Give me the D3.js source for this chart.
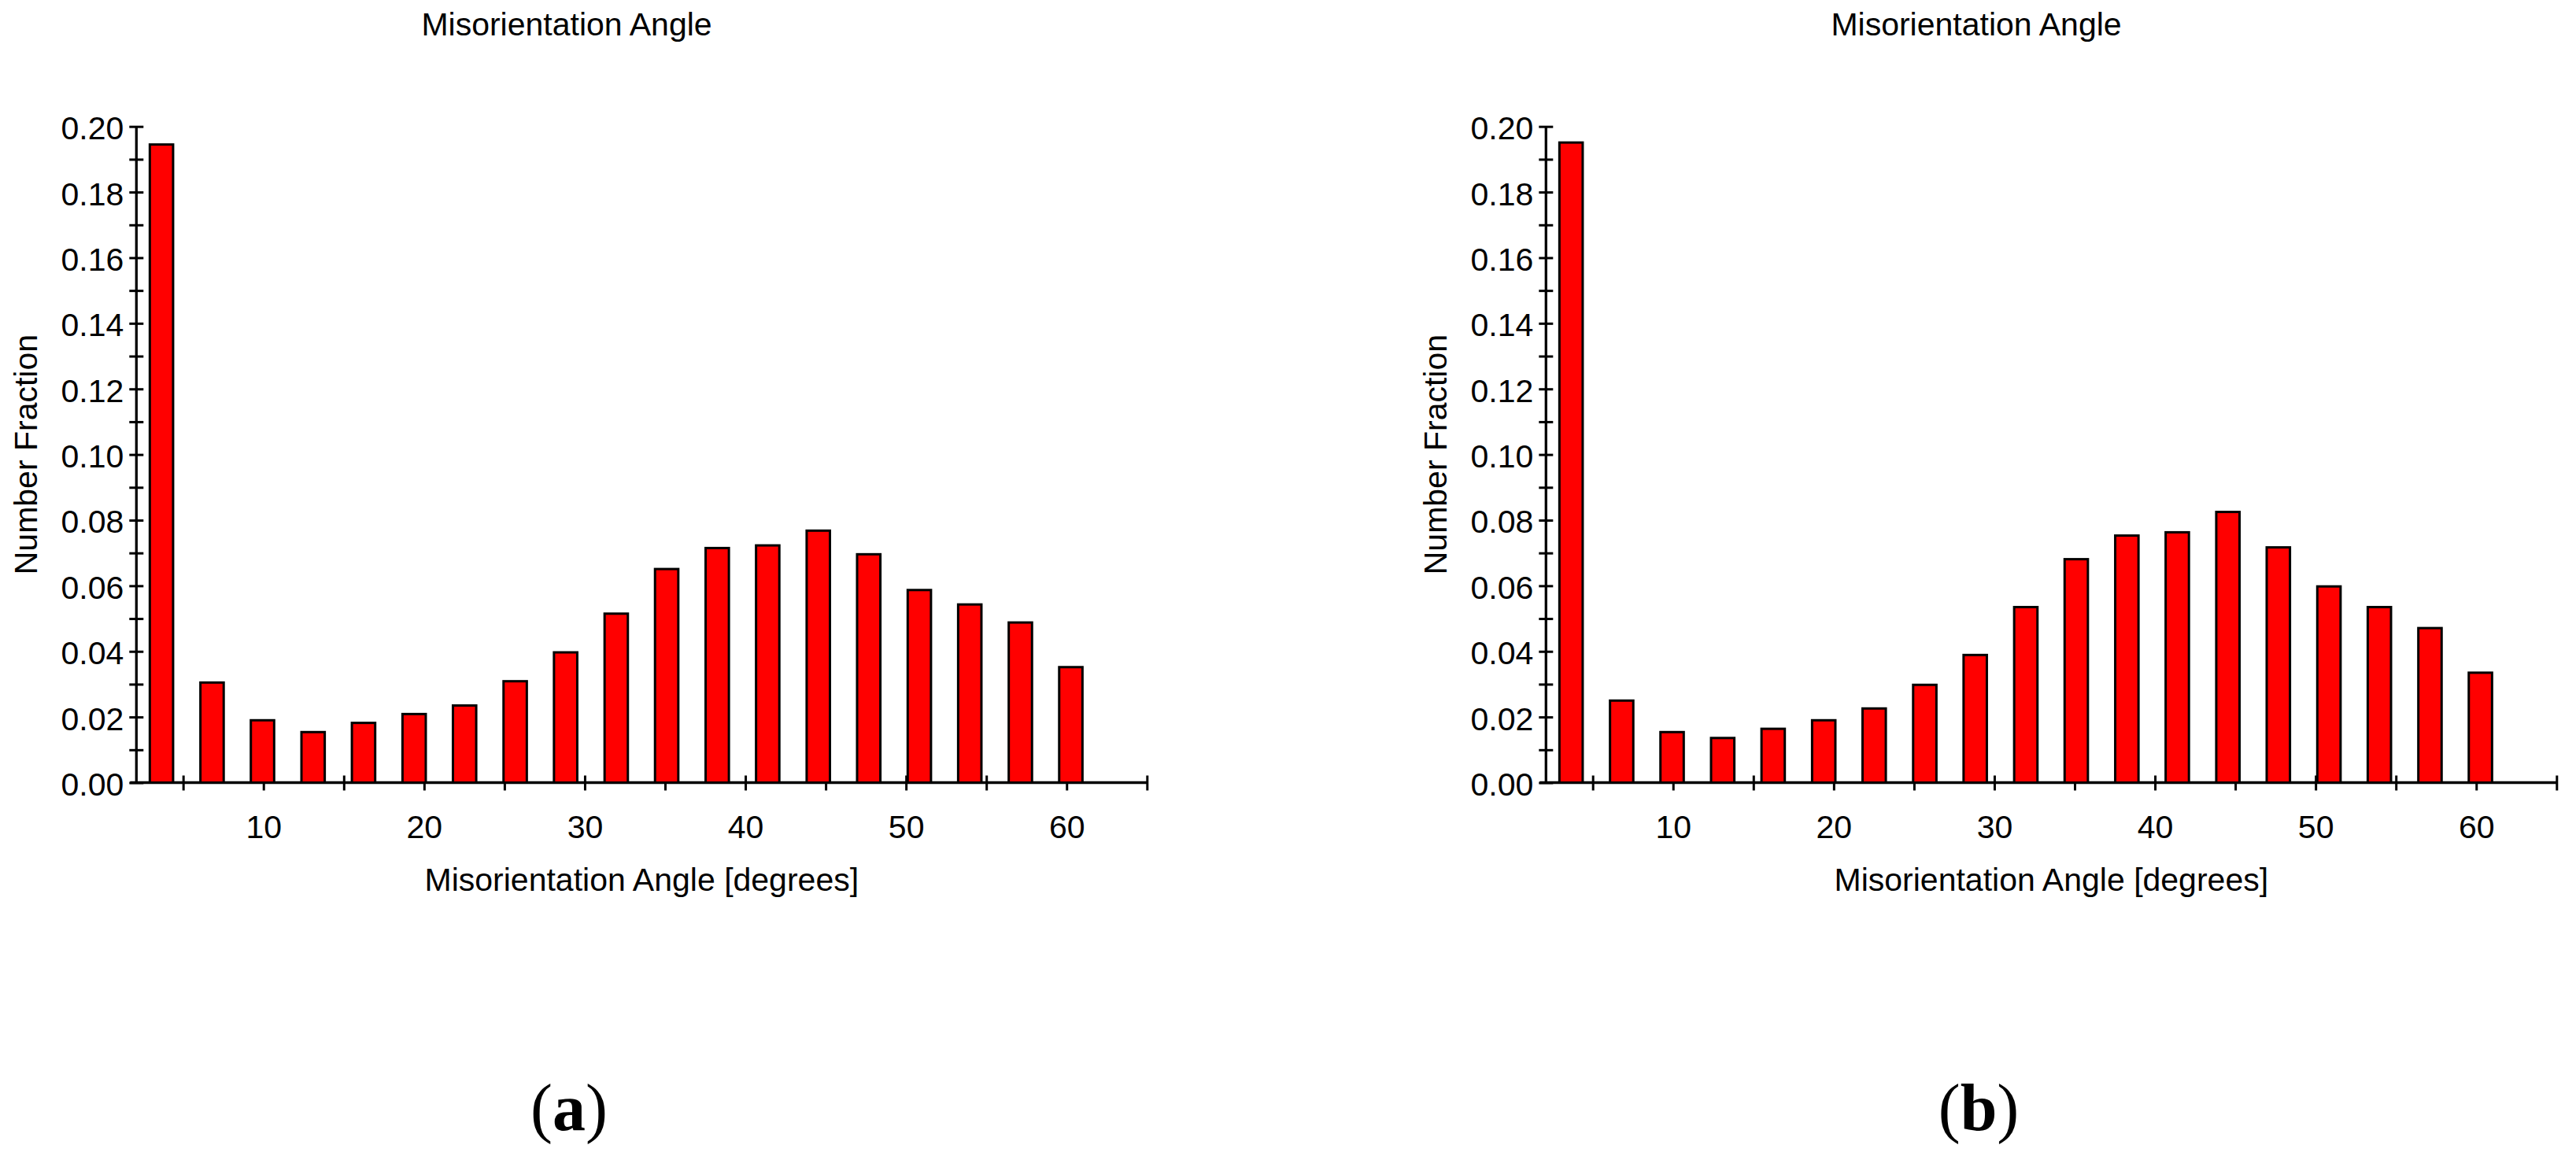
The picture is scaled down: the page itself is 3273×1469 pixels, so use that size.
<!DOCTYPE html>
<html>
<head>
<meta charset="utf-8">
<script src="https://cdn.jsdelivr.net/npm/d3@7"></script>
<style>
  html, body { margin: 0; padding: 0; background: #ffffff; }
  svg { display: block; }
</style>
</head>
<body>
<script>
// ---------------- DATA ----------------
// Histogram bin centres (misorientation angle, degrees)
const binCenters = [3.65, 6.80, 9.94, 13.09, 16.23, 19.38, 22.52, 25.67, 28.81, 31.96,
                    35.10, 38.25, 41.39, 44.54, 47.68, 50.83, 53.97, 57.12, 60.26];
// Number fraction, panel (a)
const fractionA = [0.1945, 0.0305, 0.0190, 0.0154, 0.0182, 0.0209, 0.0235, 0.0309, 0.0397, 0.0515,
                   0.0651, 0.0715, 0.0723, 0.0768, 0.0696, 0.0587, 0.0543, 0.0488, 0.0352];
// Number fraction, panel (b)
const fractionB = [0.1951, 0.0250, 0.0154, 0.0136, 0.0164, 0.0190, 0.0226, 0.0298, 0.0389, 0.0535,
                   0.0681, 0.0753, 0.0763, 0.0825, 0.0717, 0.0598, 0.0535, 0.0471, 0.0335];
// Axis ticks
const xTicks = [5, 10, 15, 20, 25, 30, 35, 40, 45, 50, 55, 60, 65];
const xTickLabels = ["10", "20", "30", "40", "50", "60"];
const yTicks = [0, 0.01, 0.02, 0.03, 0.04, 0.05, 0.06, 0.07, 0.08, 0.09, 0.10,
                0.11, 0.12, 0.13, 0.14, 0.15, 0.16, 0.17, 0.18, 0.19, 0.20];
const yTickLabels = ["0.00", "0.02", "0.04", "0.06", "0.08", "0.10", "0.12", "0.14", "0.16", "0.18", "0.20"];
const xDomain = [2.09, 65];
const yDomain = [0, 0.20];
const chartTitle = "Misorientation Angle";
const xTitle = "Misorientation Angle [degrees]";
const yTitle = "Number Fraction";
const panelTags = ["a", "b"];

// ---------------- DRAWING ----------------
const W = 3273, H = 1469;
const FONT = "'Liberation Sans', Arial, sans-serif";
const FS = 41;
const BAR_W_DEG = 1.45;

const svg = d3.select("body").append("svg")
  .attr("width", W).attr("height", H)
  .attr("viewBox", `0 0 ${W} ${H}`);
svg.append("rect").attr("width", W).attr("height", H).attr("fill", "#ffffff");

function drawPanel(offsetX, values, tag) {
  const g = svg.append("g").attr("transform", `translate(${offsetX},0)`);
  const x = d3.scaleLinear().domain(xDomain).range([173.3, 1457.3]);
  const y = d3.scaleLinear().domain(yDomain).range([994.5, 160.7]);

  // X axis ticks + labels
  const xa = g.append("g")
    .attr("transform", `translate(0,${y(0)})`)
    .call(d3.axisBottom(x).tickValues(xTicks).tickSizeOuter(0)
      .tickFormat(d => xTickLabels.includes(String(d)) ? String(d) : ""));
  xa.attr("font-size", null).attr("font-family", null);
  xa.select(".domain").remove();
  xa.selectAll(".tick line")
    .attr("y1", -9).attr("y2", 10)
    .attr("stroke", "#000").attr("stroke-width", 3);
  xa.selectAll(".tick text")
    .attr("y", 70.5).attr("dy", 0)
    .attr("fill", "#000")
    .style("font-family", FONT).style("font-size", FS + "px");

  // Y axis ticks + labels
  const fmt = d3.format(".2f");
  const ya = g.append("g")
    .attr("transform", `translate(${x(xDomain[0])},0)`)
    .call(d3.axisLeft(y).tickValues(yTicks).tickSizeOuter(0)
      .tickFormat(d => yTickLabels.includes(fmt(d)) ? fmt(d) : ""));
  ya.attr("font-size", null).attr("font-family", null);
  ya.select(".domain").remove();
  ya.selectAll(".tick line")
    .attr("x1", -9).attr("x2", 9)
    .attr("stroke", "#000").attr("stroke-width", 3);
  ya.selectAll(".tick text")
    .attr("x", -16).attr("dy", 0).attr("y", 16)
    .attr("text-anchor", "end")
    .attr("fill", "#000")
    .style("font-family", FONT).style("font-size", FS + "px");

  // Axis lines
  g.append("line")
    .attr("x1", x(xDomain[0]) - 8).attr("x2", x(xDomain[1]))
    .attr("y1", y(0)).attr("y2", y(0))
    .attr("stroke", "#000").attr("stroke-width", 3.3);
  g.append("line")
    .attr("x1", x(xDomain[0])).attr("x2", x(xDomain[0]))
    .attr("y1", y(yDomain[1])).attr("y2", y(0))
    .attr("stroke", "#000").attr("stroke-width", 3.3);

  // Bars
  g.append("g").selectAll("rect")
    .data(binCenters.map((c, i) => ({ c, v: values[i] })))
    .join("rect")
    .attr("x", d => x(d.c - BAR_W_DEG / 2))
    .attr("width", d => x(d.c + BAR_W_DEG / 2) - x(d.c - BAR_W_DEG / 2))
    .attr("y", d => y(d.v))
    .attr("height", d => y(0) - y(d.v))
    .attr("fill", "#ff0000")
    .attr("stroke", "#000")
    .attr("stroke-width", 3);

  // Chart title
  g.append("text")
    .attr("x", 720).attr("y", 45)
    .attr("text-anchor", "middle")
    .style("font-family", FONT).style("font-size", FS + "px")
    .attr("fill", "#000")
    .text(chartTitle);

  // X axis title
  g.append("text")
    .attr("x", (x.range()[0] + x.range()[1]) / 2).attr("y", 1132)
    .attr("text-anchor", "middle")
    .style("font-family", FONT).style("font-size", FS + "px")
    .attr("fill", "#000")
    .text(xTitle);

  // Y axis title
  g.append("text")
    .attr("transform", `translate(47,${(y.range()[0] + y.range()[1]) / 2}) rotate(-90)`)
    .attr("text-anchor", "middle")
    .style("font-family", FONT).style("font-size", FS + "px")
    .attr("fill", "#000")
    .text(yTitle);

  // Panel label (a)/(b)
  const lab = g.append("text")
    .attr("x", 723).attr("y", 1436)
    .attr("text-anchor", "middle")
    .style("font-family", "'Liberation Serif', 'Times New Roman', serif")
    .style("font-size", "84px")
    .attr("fill", "#000");
  lab.append("tspan").text("(");
  lab.append("tspan").attr("font-weight", "bold").text(tag);
  lab.append("tspan").text(")");
}

drawPanel(0, fractionA, panelTags[0]);
drawPanel(1791, fractionB, panelTags[1]);
</script>
</body>
</html>
